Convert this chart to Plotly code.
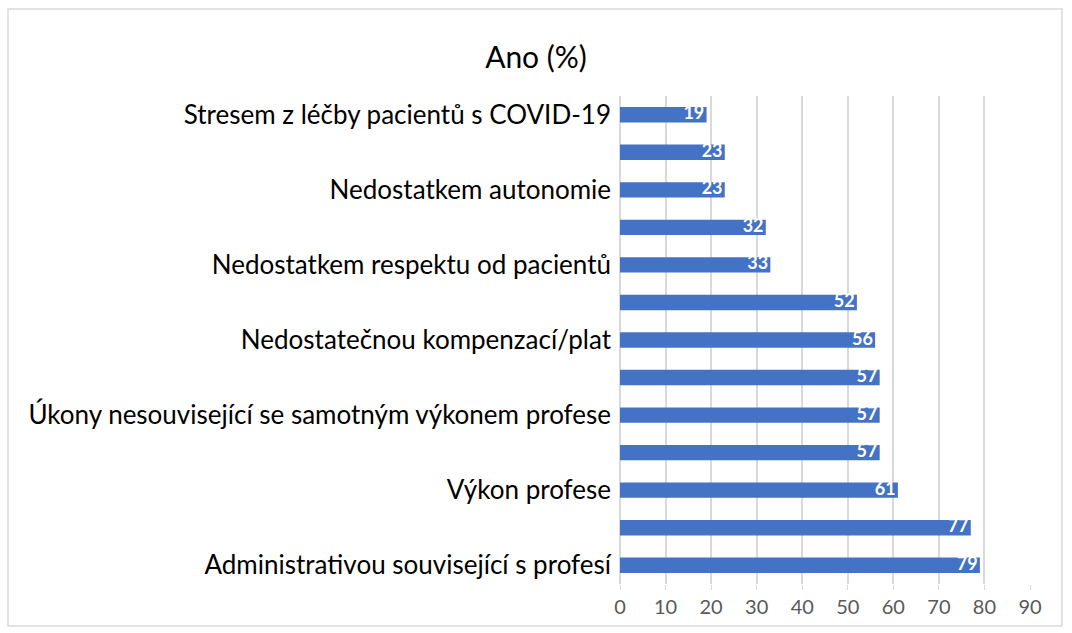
import plotly.graph_objects as go

# bottom-to-top order
labels = [
    "Administrativou související s profesí",
    "",
    "Výkon profese",
    "",
    "Úkony nesouvisející se samotným výkonem profese",
    "",
    "Nedostatečnou kompenzací/plat",
    "",
    "Nedostatkem respektu od pacientů",
    "",
    "Nedostatkem autonomie",
    "",
    "Stresem z léčby pacientů s COVID-19",
]
values = [79, 77, 61, 57, 57, 57, 56, 52, 33, 32, 23, 23, 19]
positions = list(range(len(values)))
x_ticks = [0, 10, 20, 30, 40, 50, 60, 70, 80, 90]

fig = go.Figure()
fig.add_trace(go.Bar(
    x=values, y=positions, orientation="h",
    marker=dict(color="#4472C4", line=dict(width=0)),
    width=0.41, hoverinfo="x",
))
fig.add_trace(go.Scatter(
    x=values, y=positions, mode="text",
    text=[str(v) + "\u2009" for v in values],
    textposition="middle left",
    textfont=dict(color="white", size=18, family="Lato", weight="bold"),
    cliponaxis=False, hoverinfo="skip",
))

L, R, T, B = 620, 1030, 96, 584
W, H = 1072, 633

fig.update_layout(
    width=W, height=H,
    margin=dict(l=L, r=W - R, t=T, b=H - B, pad=0),
    paper_bgcolor="white", plot_bgcolor="white",
    showlegend=False,
    title=dict(text="Ano (%)", x=536 / W, xanchor="center", y=1 - 57 / H, yanchor="middle",
               font=dict(family="Lato", size=30, color="black")),
    xaxis=dict(range=[0, 90], tickvals=x_ticks, showgrid=True, gridcolor="#d9d9d9", gridwidth=1.5,
               zeroline=True, zerolinecolor="#d9d9d9", zerolinewidth=1.5,
               tickfont=dict(family="Lato", size=20, color="#595959"),
               ticks="outside", ticklen=5, tickcolor="#d9d9d9", fixedrange=True),
    yaxis=dict(range=[-0.5, len(values) - 0.5], tickvals=positions, ticktext=labels,
               showgrid=False, zeroline=False, ticks="", ticklabelstandoff=8,
               tickfont=dict(family="Lato", size=26, color="black"), automargin=False,
               fixedrange=True),
)

pw, ph = R - L, B - T
fig.add_shape(type="rect", xref="paper", yref="paper",
              x0=(8 - L) / pw, x1=(1062 - L) / pw,
              y0=(B - 626) / ph, y1=(B - 9) / ph,
              line=dict(color="#d9d9d9", width=1.5), fillcolor="rgba(0,0,0,0)", layer="below")

fig.write_html("out.html", config={"displayModeBar": False},
               post_script="document.body.style.margin='0';document.body.style.overflow='hidden';")
